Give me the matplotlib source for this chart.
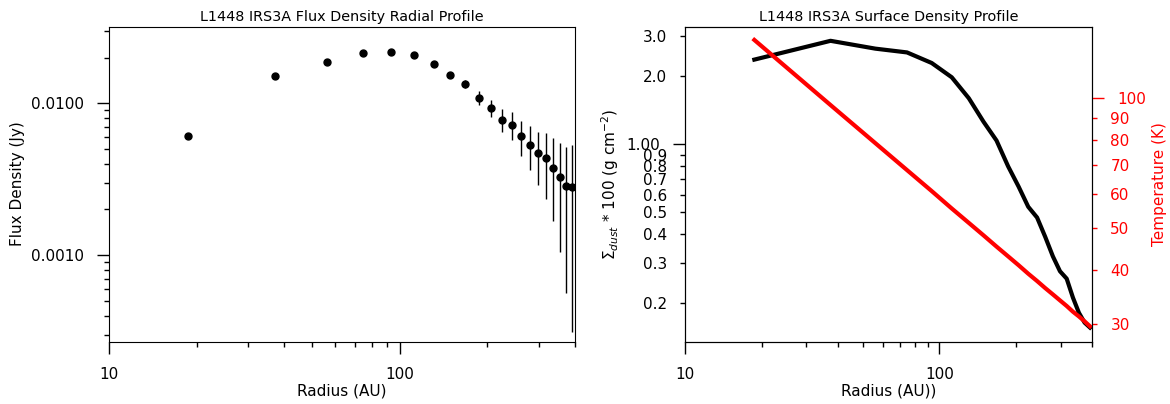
import matplotlib
matplotlib.use("Agg")
import matplotlib.pyplot as plt
from matplotlib.ticker import FormatStrFormatter, NullFormatter

# ---- data ----
radius_au = [18.7, 37.3, 56.0, 74.6, 93.3, 111.9, 130.6, 149.2, 167.9, 186.5, 205.2,
             223.8, 242.5, 261.1, 279.8, 298.4, 317.1, 335.7, 354.4, 373.0, 391.7]
flux_jy = [0.00606, 0.01516, 0.01876, 0.02137, 0.02183, 0.02073, 0.01808, 0.01530,
           0.01343, 0.01090, 0.00933, 0.00781, 0.00720, 0.00609, 0.00534, 0.00468,
           0.00434, 0.00377, 0.00325, 0.00286, 0.00281]
flux_err = [0.0001, 0.0001, 0.0001, 0.0002, 0.0002, 0.0002, 0.0003, 0.0004,
            0.0008, 0.0011, 0.0012, 0.0013, 0.0015, 0.0016, 0.0017, 0.0018,
            0.0020, 0.0021, 0.0022, 0.0023, 0.0025]
sigma_dust = [2.37, 2.87, 2.65, 2.55, 2.29, 1.98, 1.60, 1.26, 1.04, 0.80, 0.65,
              0.53, 0.475, 0.39, 0.32, 0.275, 0.255, 0.21, 0.18, 0.163, 0.155]
temperature_k = [136.3, 96.4, 78.7, 68.2, 61.0, 55.6, 51.5, 48.2, 45.4, 43.1, 41.1,
                 39.3, 37.8, 36.4, 35.2, 34.1, 33.1, 32.1, 31.3, 30.5, 29.7]

plt.rcParams['font.family'] = ['DejaVu Sans']
plt.rcParams['font.size'] = 11

fig = plt.figure(figsize=(11.7, 4.04), dpi=100)
ax1 = fig.add_axes([0.0932, 0.1547, 0.3982, 0.7797])
ax2 = fig.add_axes([0.5857, 0.1547, 0.3479, 0.7797])

MAJ_LEN, MIN_LEN, PAD = 8.6, 3.6, 9.4

def style_ticks(ax, color='black', which_axis='both'):
    ax.tick_params(axis=which_axis, which='major', direction='out', length=MAJ_LEN,
                   width=1, pad=PAD, labelsize=11)
    ax.tick_params(axis=which_axis, which='minor', direction='out', length=MIN_LEN,
                   width=1, pad=PAD, labelsize=11)

# ---- left panel ----
ax1.errorbar(radius_au, flux_jy, yerr=flux_err, fmt='o', color='black',
             markersize=5, elinewidth=1, capsize=0)
ax1.set_xscale('log')
ax1.set_yscale('log')
ax1.set_xlim(10, 400)
ax1.set_ylim(0.00027, 0.032)
style_ticks(ax1)
ax1.tick_params(top=False, right=False, which='both')
ax1.xaxis.set_major_formatter(FormatStrFormatter('%d'))
ax1.xaxis.set_minor_formatter(NullFormatter())
ax1.yaxis.set_major_formatter(FormatStrFormatter('%.4f'))
ax1.yaxis.set_minor_formatter(NullFormatter())
ax1.set_xlabel('Radius (AU)', fontsize=11, labelpad=1.5)
ax1.set_ylabel('Flux Density (Jy)', fontsize=11)
ax1.set_title('L1448 IRS3A Flux Density Radial Profile', fontsize=10.4, pad=4)

# ---- right panel ----
ax2.plot(radius_au, sigma_dust, color='black', linewidth=3)
ax2.set_xscale('log')
ax2.set_yscale('log')
ax2.set_xlim(10, 400)
ax2.set_ylim(0.1345, 3.32)
style_ticks(ax2)
ax2.tick_params(top=False, right=False, which='both')
ax2.xaxis.set_major_formatter(FormatStrFormatter('%d'))
ax2.xaxis.set_minor_formatter(NullFormatter())
ax2.yaxis.set_major_formatter(FormatStrFormatter('%.2f'))
ax2.yaxis.set_minor_formatter(FormatStrFormatter('%.1f'))
ax2.set_xlabel('Radius (AU))', fontsize=11, labelpad=1.5)
ax2.set_ylabel(r'$\Sigma_{dust}$ * 100 (g cm$^{-2}$)', fontsize=11)
ax2.set_title('L1448 IRS3A Surface Density Profile', fontsize=10.4, pad=4)

ax3 = ax2.twinx()
ax3.plot(radius_au, temperature_k, color='red', linewidth=3)
ax3.set_yscale('log')
ax3.set_ylim(27.4, 146.4)
ax3.tick_params(axis='y', which='major', direction='out', length=MAJ_LEN, width=1,
                pad=PAD, labelsize=11, colors='red')
ax3.tick_params(axis='y', which='minor', direction='out', length=MIN_LEN, width=1,
                pad=PAD, labelsize=11, colors='red')
ax3.yaxis.set_major_formatter(FormatStrFormatter('%d'))
ax3.yaxis.set_minor_formatter(FormatStrFormatter('%d'))
ax3.set_ylabel('Temperature (K)', color='red', fontsize=11)

fig.savefig('out.png', dpi=100)
